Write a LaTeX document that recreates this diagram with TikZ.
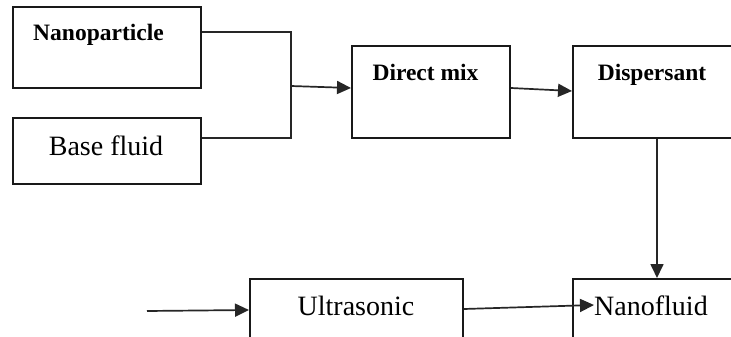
\documentclass[tikz,border=0pt]{standalone}
\usepackage{fontspec}
\setmainfont{Liberation Serif}
\usetikzlibrary{arrows.meta}
\tikzset{
  box/.style={draw=black!90, line width=2pt, inner sep=0pt, fill=white},
  conn/.style={draw=black!85, line width=1.7pt},
  arr/.style={conn, -{Triangle[length=14pt,width=13pt]}},
  boldlbl/.style={anchor=base, inner sep=0pt, font=\fontsize{23.5}{25}\selectfont\bfseries},
  plainlbl/.style={anchor=base, inner sep=0pt, font=\fontsize{28}{30}\selectfont},
}
\begin{document}
\begin{tikzpicture}[x=1pt, y=-1pt]
\useasboundingbox (0,0) rectangle (731,337);
\clip (0,0) rectangle (731,337);
\fill[white] (0,0) rectangle (731,337);

% process boxes
\node[box, minimum width=188pt, minimum height=81pt] (np) at (107,47.5) {};
\node[box, minimum width=188pt, minimum height=66pt] (bf) at (107,151) {};
\node[box, minimum width=158pt, minimum height=92pt] (dm) at (431,92) {};
\node[box, minimum width=172pt, minimum height=92pt] (ds) at (659,92) {};
\node[box, minimum width=213pt, minimum height=66pt] (us) at (356.5,312) {};
\node[box, minimum width=172pt, minimum height=66pt] (nf) at (659,312) {};

% box captions
\node[boldlbl] (tnp) at (98.5,41) {Nanoparticle};
\node[plainlbl] (tbf) at (106,155) {Base fluid};
\node[boldlbl] (tdm) at (425.5,80.5) {Direct mix};
\node[boldlbl] (tds) at (652,80.5) {Dispersant};
\node[plainlbl] (tus) at (356,315) {Ultrasonic};
\node[plainlbl] (tnf) at (651,315) {Nanofluid};

% merging the two inputs
\coordinate (jtop) at (291,32);
\coordinate (jbot) at (291,138);
\coordinate (jmid) at (291,86);
\draw[conn] ([yshift=15.5pt]np.east) -- (jtop) -- (jbot) -- ([yshift=13pt]bf.east);
\draw[arr] (jmid) -- ([yshift=4pt]dm.west);

% main flow
\draw[arr] ([yshift=4pt]dm.east) -- ([yshift=1pt]ds.west);
\draw[arr] ([xshift=-2pt]ds.south) -- ([xshift=-2pt]nf.north);

% ultrasonic line
\coordinate (feed) at (147,311);
\draw[arr] (feed) -- ([yshift=2pt]us.west);
\draw[arr] ([yshift=3pt]us.east) -- ([xshift=22pt,yshift=7pt]nf.west);
\end{tikzpicture}
\end{document}
